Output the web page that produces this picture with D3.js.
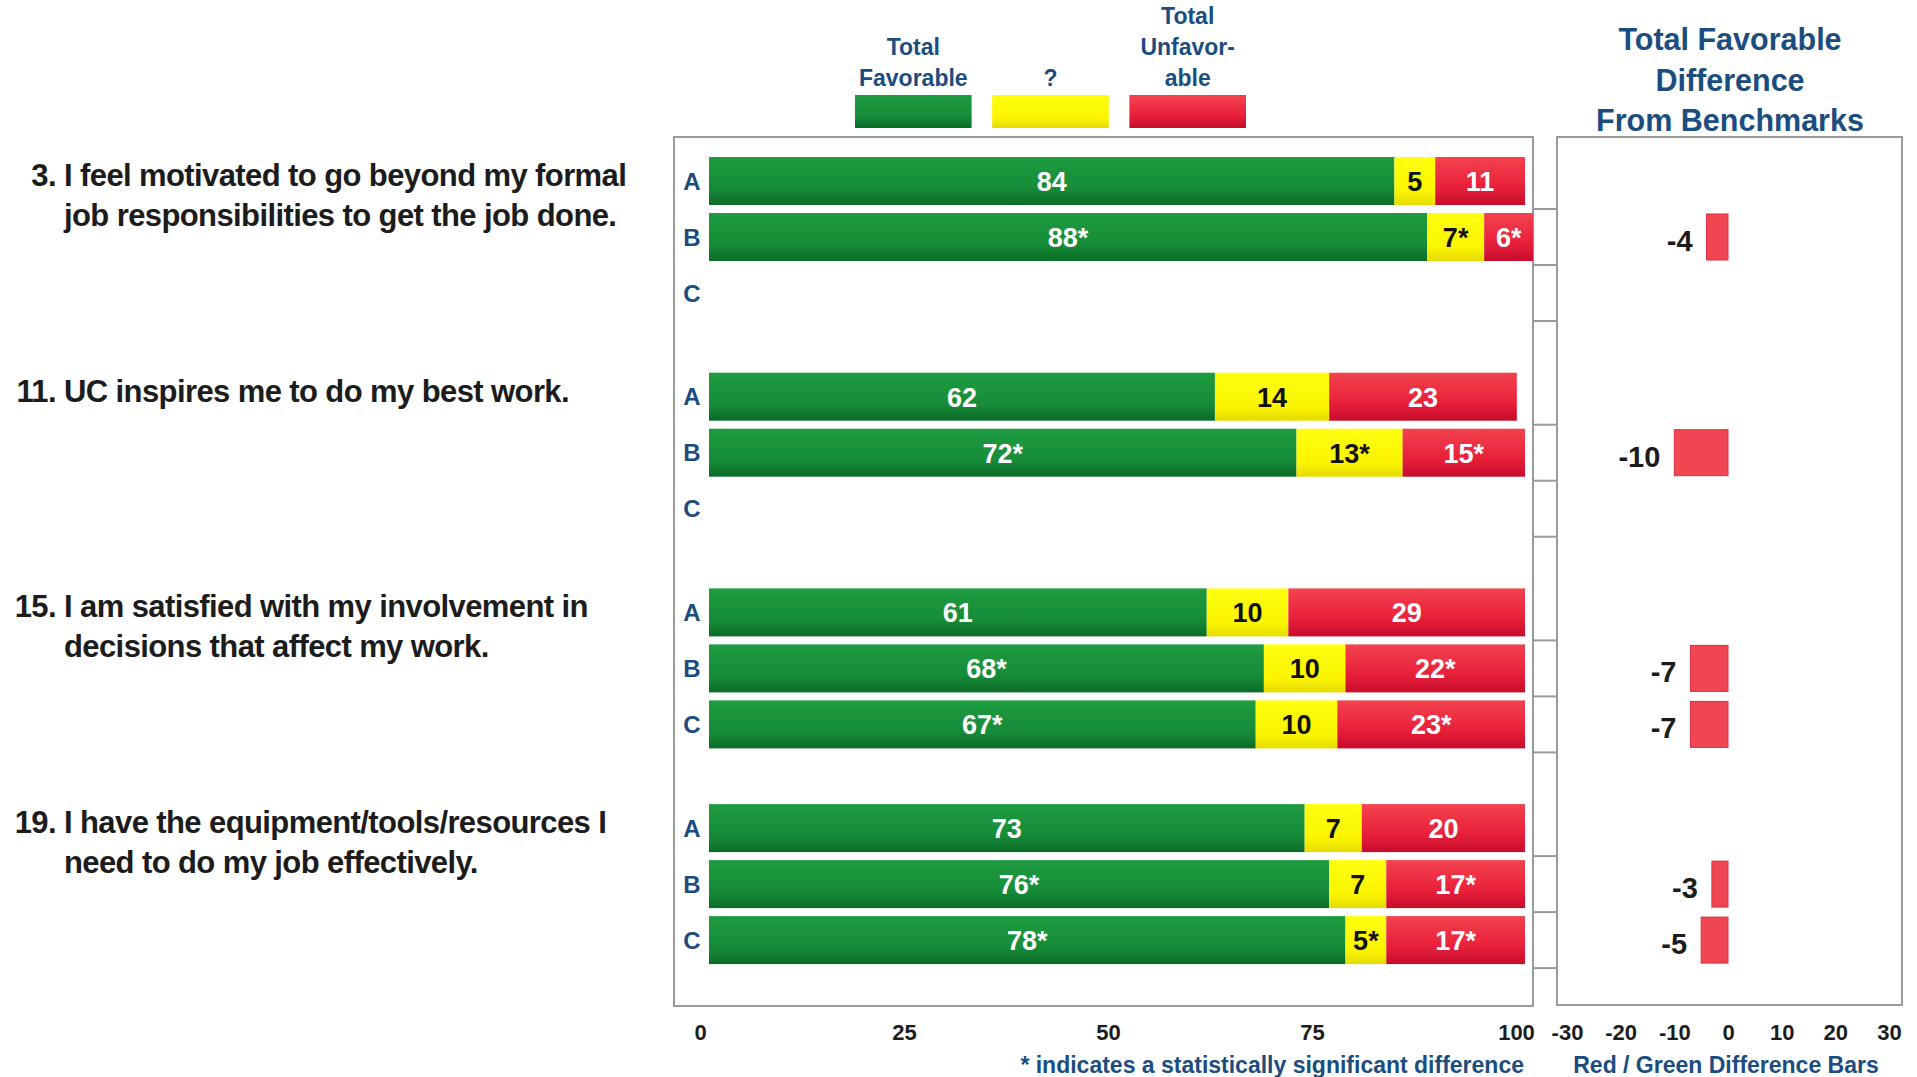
<!DOCTYPE html>
<html>
<head>
<meta charset="utf-8">
<script src="https://cdn.jsdelivr.net/npm/d3@7"></script>
<style>
  html, body { margin: 0; padding: 0; background: #ffffff; }
  svg { display: block; font-family: "Liberation Sans", Arial, Helvetica, sans-serif; font-weight: bold; }
</style>
</head>
<body>
<script>
// Survey items and the response groups shown for each
const questionNums = ["3", "11", "15", "19"];
const questionLines = [
  ["I feel motivated to go beyond my formal", "job responsibilities to get the job done."],
  ["UC inspires me to do my best work."],
  ["I am satisfied with my involvement in", "decisions that affect my work."],
  ["I have the equipment/tools/resources I", "need to do my job effectively."]
];
const groups = ["A", "B", "C"];

// Percentages per row (question x group), null = no data for that group
const favorable   = [84, 88, null, 62, 72, null, 61, 68, 67, 73, 76, 78];
const neutral     = [ 5,  7, null, 14, 13, null, 10, 10, 10,  7,  7,  5];
const unfavorable = [11,  6, null, 23, 15, null, 29, 22, 23, 20, 17, 17];

// Statistically significant flags (shown with an asterisk)
const favorableSig   = [false, true, false, false, true, false, false, true, true, false, true, true];
const neutralSig     = [false, true, false, false, true, false, false, false, false, false, false, true];
const unfavorableSig = [false, true, false, false, true, false, false, true, true, false, true, true];

// Total favorable difference from benchmarks
const benchmarkDiff = [null, -4, null, null, -10, null, null, -7, -7, null, -3, -5];

const pctTicks  = [0, 25, 50, 75, 100];
const diffTicks = [-30, -20, -10, 0, 10, 20, 30];

const legendKeys   = ["fav", "neu", "unf"];
const legendLabels = [["Total", "Favorable"], ["?"], ["Total", "Unfavor-", "able"]];

const BLUE = "#1b4d80";
const INK  = "#1c1c1c";

const svg = d3.select("body").append("svg")
  .attr("width", 1917).attr("height", 1077);

// ---- gradients for the stacked segments ----
const defs = svg.append("defs");
function vGrad(id, stops) {
  const g = defs.append("linearGradient").attr("id", id)
    .attr("x1", 0).attr("y1", 0).attr("x2", 0).attr("y2", 1);
  stops.forEach(([o, c]) => g.append("stop").attr("offset", o).attr("stop-color", c));
}
vGrad("g-fav", [[0, "#1f9c41"], [0.65, "#168c38"], [1, "#0b6b28"]]);
vGrad("g-neu", [[0, "#ffff10"], [0.7, "#fbf500"], [1, "#e6dc00"]]);
vGrad("g-unf", [[0, "#f3434e"], [0.6, "#e9213b"], [1, "#c70c2b"]]);
const fills = { fav: "url(#g-fav)", neu: "url(#g-neu)", unf: "url(#g-unf)" };
const labelColor = { fav: "#ffffff", neu: "#111111", unf: "#ffffff" };

// ---- scales ----
const x  = d3.scaleLinear().domain([0, 100]).range([709, 1525]);
const xd = d3.scaleLinear().domain([-30, 30]).range([1567, 1889]);
const yQ = d3.scaleBand().domain(questionNums).range([153, 153 + 4 * 215.7]);
const yR = d3.scaleBand().domain(groups).range([0, 168])
  .paddingInner(8 / 56).paddingOuter(4 / 56);

// Flattened rows
const rows = [];
questionNums.forEach((q, qi) => {
  groups.forEach((g, gi) => {
    const i = qi * groups.length + gi;
    rows.push({
      q, g, i,
      fav: favorable[i], neu: neutral[i], unf: unfavorable[i],
      favSig: favorableSig[i], neuSig: neutralSig[i], unfSig: unfavorableSig[i],
      diff: benchmarkDiff[i],
      y: yQ(q) + yR(g)
    });
  });
});
const filled = rows.filter(r => r.fav != null);

// ---- panel frames ----
const frameColor = "#9a9a9a";
svg.append("rect").attr("x", 674).attr("y", 137).attr("width", 859).attr("height", 869)
  .attr("fill", "none").attr("stroke", frameColor).attr("stroke-width", 2);
svg.append("rect").attr("x", 1557).attr("y", 137).attr("width", 345).attr("height", 868)
  .attr("fill", "none").attr("stroke", frameColor).attr("stroke-width", 2);

// connector rules between the two panels at each row boundary
const connectors = [];
questionNums.forEach(q => { [1, 2, 3].forEach(k => connectors.push(yQ(q) + yR.step() * k)); });
svg.append("g").selectAll("line").data(connectors).join("line")
  .attr("x1", 1533).attr("x2", 1557).attr("y1", d => d).attr("y2", d => d)
  .attr("stroke", frameColor).attr("stroke-width", 2);

// ---- question text ----
const qText = svg.append("g").attr("fill", INK).style("font-size", "31px").style("letter-spacing", "-0.6px");
questionNums.forEach((q, qi) => {
  const base = yQ(q) + yR("A") + yR.bandwidth() / 2 + 5;
  qText.append("text").attr("x", 56).attr("y", base).attr("text-anchor", "end").text(q + ".");
  questionLines[qi].forEach((line, li) => {
    qText.append("text").attr("x", 64).attr("y", base + li * 39.5).text(line);
  });
});

// ---- row letters ----
svg.append("g").selectAll("text").data(rows).join("text")
  .attr("x", 692).attr("y", d => d.y + yR.bandwidth() / 2 + 8.5)
  .attr("text-anchor", "middle").attr("fill", BLUE).style("font-size", "24px")
  .text(d => d.g);

// ---- stacked bars ----
const stack = d3.stack().keys(legendKeys);
const series = stack(filled);
const segG = svg.append("g");
series.forEach(s => {
  const key = s.key;
  segG.append("g").selectAll("rect").data(s).join("rect")
    .attr("x", d => x(d[0]))
    .attr("y", d => d.data.y)
    .attr("width", d => x(d[1]) - x(d[0]))
    .attr("height", yR.bandwidth())
    .attr("fill", fills[key]);
  segG.append("g").selectAll("text").data(s).join("text")
    .attr("x", d => (x(d[0]) + x(d[1])) / 2)
    .attr("y", d => d.data.y + yR.bandwidth() / 2 + 10)
    .attr("text-anchor", "middle")
    .attr("fill", labelColor[key])
    .style("font-size", "27px")
    .text(d => d.data[key] + (d.data[key + "Sig"] ? "*" : ""));
});

// ---- benchmark difference bars ----
const diffRows = rows.filter(r => r.diff != null);
const dG = svg.append("g");
const dH = 46;
dG.selectAll("rect").data(diffRows).join("rect")
  .attr("x", d => xd(Math.min(0, d.diff)))
  .attr("y", d => d.y + (yR.bandwidth() - dH) / 2)
  .attr("width", d => Math.abs(xd(d.diff) - xd(0)))
  .attr("height", dH)
  .attr("fill", "#f04652").attr("stroke", "#d9303f").attr("stroke-width", 1);
dG.selectAll("text").data(diffRows).join("text")
  .attr("x", d => xd(Math.min(0, d.diff)) - 14)
  .attr("y", d => d.y + yR.bandwidth() / 2 + 14)
  .attr("text-anchor", "end").attr("fill", INK).style("font-size", "29px")
  .text(d => String(d.diff));

// ---- axes ----
const axPct = svg.append("g").attr("transform", "translate(0,1020)")
  .call(d3.axisBottom(x).tickValues(pctTicks).tickSize(0).tickPadding(0).tickFormat(d => String(d)));
axPct.select(".domain").remove();
axPct.selectAll("text").attr("dx", -9).attr("dy", "0.9em")
  .attr("fill", INK).style("font-size", "22px").style("font-family", "inherit").style("font-weight", "bold");

const axDiff = svg.append("g").attr("transform", "translate(0,1020)")
  .call(d3.axisBottom(xd).tickValues(diffTicks).tickSize(0).tickPadding(0).tickFormat(d => String(d)));
axDiff.select(".domain").remove();
axDiff.selectAll("text").attr("dy", "0.9em")
  .attr("fill", INK).style("font-size", "22px").style("font-family", "inherit").style("font-weight", "bold");

// ---- legend ----
const lx = d3.scaleBand().domain(legendKeys).range([855, 1246]).paddingInner(0.15);
const lg = svg.append("g");
lg.selectAll("rect").data(legendKeys).join("rect")
  .attr("x", d => lx(d)).attr("y", 95).attr("width", lx.bandwidth()).attr("height", 33)
  .attr("fill", d => fills[d]);
legendKeys.forEach((k, ki) => {
  const lines = legendLabels[ki];
  lines.forEach((t, li) => {
    lg.append("text")
      .attr("x", lx(k) + lx.bandwidth() / 2)
      .attr("y", 86 - (lines.length - 1 - li) * 31)
      .attr("text-anchor", "middle").attr("fill", BLUE).style("font-size", "23px")
      .text(t);
  });
});

// ---- right panel title ----
const titleLines = ["Total Favorable", "Difference", "From Benchmarks"];
svg.append("g").selectAll("text").data(titleLines).join("text")
  .attr("x", 1730).attr("y", (d, i) => 50 + i * 40.5)
  .attr("text-anchor", "middle").attr("fill", BLUE).style("font-size", "30.5px")
  .text(d => d);

// ---- footnotes ----
svg.append("text").attr("x", 1524).attr("y", 1073).attr("text-anchor", "end")
  .attr("fill", BLUE).style("font-size", "23px")
  .text("* indicates a statistically significant difference");
svg.append("text").attr("x", 1726).attr("y", 1073).attr("text-anchor", "middle")
  .attr("fill", BLUE).style("font-size", "23px")
  .text("Red / Green Difference Bars");
</script>
</body>
</html>
